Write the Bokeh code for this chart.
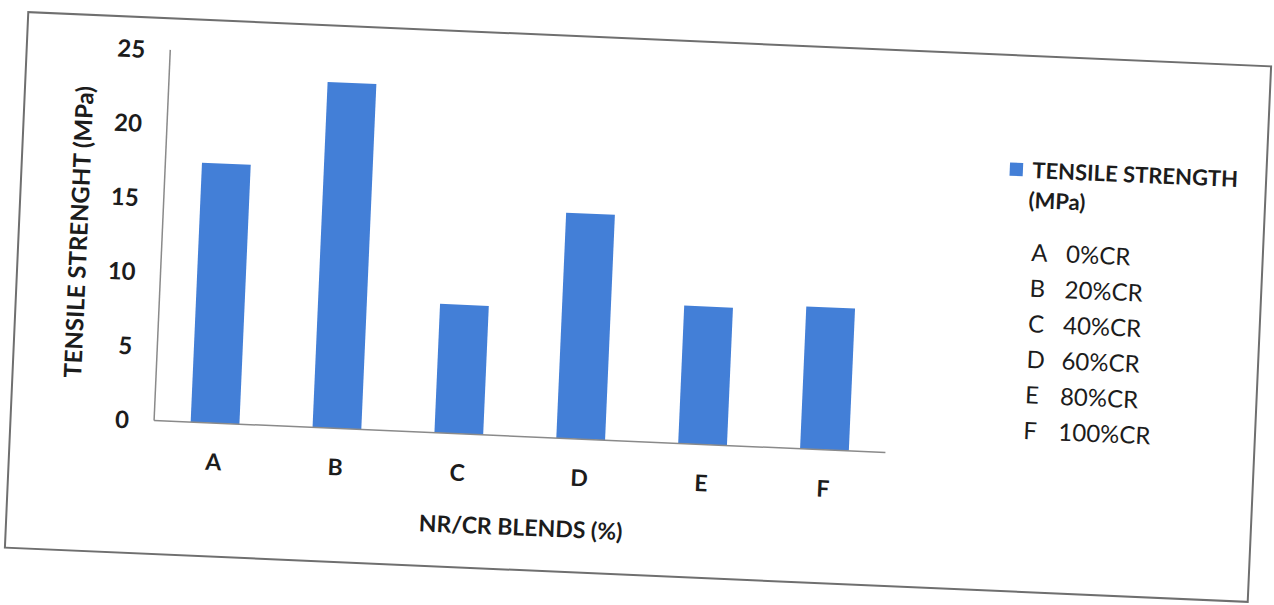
from bokeh.plotting import figure
from bokeh.models import Range1d, FixedTicker, Label, Legend, LegendItem, Title
from bokeh.embed import file_html
from bokeh.resources import INLINE

# Tensile strength of NR/CR blends
blends = ["A", "B", "C", "D", "E", "F"]
tensile_mpa = [17.5, 23.3, 8.7, 15.2, 9.3, 9.6]
cr_content = ["0%CR", "20%CR", "40%CR", "60%CR", "80%CR", "100%CR"]
y_ticks = [0, 5, 10, 15, 20, 25]

FONT = "Lato"
INK = "#1c1c1c"
BAR = "#437FD7"
AXIS = "#8a8a8a"

# one slot per blend; the frame also reaches over the key on the right
slot = list(range(1, len(blends) + 1))
slot_px = 122
frame_w = 1100

p = figure(
    x_range=Range1d(0.5, 0.5 + frame_w / slot_px),
    y_range=Range1d(0, 25),
    frame_width=frame_w, frame_height=371,
    min_border_left=142, min_border_right=0,
    min_border_top=30, min_border_bottom=133,
    output_backend="svg", toolbar_location=None,
    background_fill_alpha=0, border_fill_alpha=0,
)
p.outline_line_color = None
p.xgrid.visible = False
p.ygrid.visible = False

bars = p.vbar(x=slot, top=tensile_mpa, width=0.4, fill_color=BAR, line_color=None)
# key swatch: a square marker in the bar colour (no visible point in the plot),
# so that the legend centres it on the label row
nan = float("nan")
swatch = p.scatter(x=[nan], y=[nan], marker="square", size=13,
                   fill_color=BAR, line_color=None)

for ax in (p.xaxis[0], p.yaxis[0]):
    ax.axis_line_color = AXIS
    ax.axis_line_width = 1.5
    ax.major_tick_line_color = None
    ax.minor_tick_line_color = None
    ax.major_tick_out = 0
    ax.major_tick_in = 0
    ax.major_label_text_font = FONT
    ax.major_label_text_font_style = "bold"
    ax.major_label_text_color = INK

p.yaxis.ticker = FixedTicker(ticks=y_ticks)
p.yaxis.major_label_text_font_size = "24px"
p.yaxis.major_label_standoff = 25
p.yaxis.axis_label = "TENSILE STRENGHT (MPa)"
p.yaxis.axis_label_standoff = 14
p.yaxis.axis_label_text_font = FONT
p.yaxis.axis_label_text_font_style = "bold"
p.yaxis.axis_label_text_font_size = "24px"
p.yaxis.axis_label_text_color = INK

p.xaxis.ticker = FixedTicker(ticks=slot)
p.xaxis.major_label_overrides = {s: b for s, b in zip(slot, blends)}
p.xaxis.bounds = (0.5, len(blends) + 0.5)
p.xaxis.major_label_text_font_size = "23px"
p.xaxis.major_label_standoff = 24

# x-axis title, centred under the six bars rather than the whole frame
p.add_layout(Title(text="NR/CR BLENDS (%)", align="left", offset=269, standoff=38,
                   text_font=FONT, text_font_style="bold", text_font_size="23px",
                   text_color=INK), "below")

legend = Legend(
    items=[LegendItem(label="TENSILE STRENGTH", renderers=[swatch])],
    location=(834, 272),
    glyph_width=33, glyph_height=33, label_standoff=-4,
    padding=0, margin=0, spacing=0,
    border_line_color=None, background_fill_alpha=0,
    label_text_font=FONT, label_text_font_style="bold",
    label_text_font_size="22px", label_text_color=INK,
)
p.add_layout(legend)

p.add_layout(Label(x=864, y=259, x_units="screen", y_units="screen", text="(MPa)",
                   text_font=FONT, text_font_style="bold", text_font_size="22px",
                   text_color=INK, text_baseline="middle", text_align="left"))

row_top = 207
row_step = 35.6
for i, (letter, cr) in enumerate(zip(blends, cr_content)):
    y = row_top - i * row_step
    p.add_layout(Label(x=869, y=y, x_units="screen", y_units="screen", text=letter,
                       text_font=FONT, text_font_size="24px", text_color=INK,
                       text_baseline="middle", text_align="left"))
    p.add_layout(Label(x=904, y=y, x_units="screen", y_units="screen", text=cr,
                       text_font=FONT, text_font_size="24px", text_color=INK,
                       text_baseline="middle", text_align="left"))

# chart-area border, tilted like the printed page
p.styles = {
    "border": "2px solid #6f6f6f",
    "margin-left": "15px",
    "margin-top": "38px",
    "transform": "rotate(2.5deg)",
}

open("out.html", "w").write(file_html(p, INLINE))
